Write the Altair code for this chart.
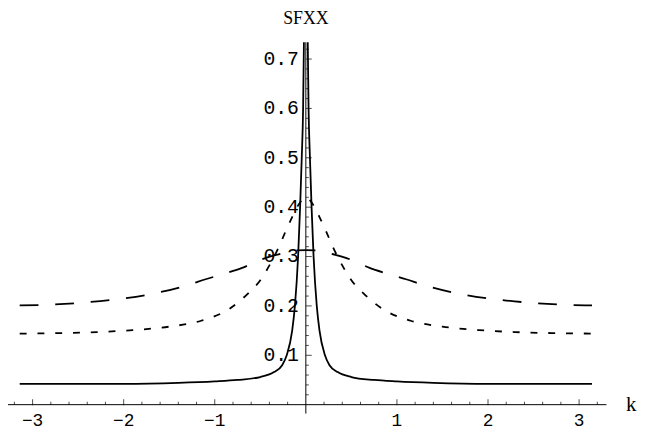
import altair as alt
import pandas as pd

# ---- values (positive-k half; curves are symmetric in k) ----
k_long = [0.0, 0.15, 0.27, 0.43, 0.54, 0.70, 0.90, 1.10, 1.30, 1.70, 2.10, 2.50, 2.90, 3.1416]
v_long = [0.313, 0.312, 0.306, 0.298, 0.290, 0.277, 0.265, 0.254, 0.242, 0.224, 0.213, 0.206, 0.202, 0.201]

k_short = [0.0, 0.08, 0.15, 0.22, 0.30, 0.40, 0.50, 0.63, 0.85, 1.15, 1.50, 1.90, 2.30, 2.70, 3.1416]
v_short = [0.420, 0.405, 0.380, 0.352, 0.318, 0.282, 0.252, 0.226, 0.193, 0.170, 0.158, 0.151, 0.147, 0.145, 0.144]

k_solid = [0.021, 0.030, 0.045, 0.063, 0.085, 0.12, 0.15, 0.21, 0.26, 0.35, 0.50, 0.75, 1.00, 1.40, 2.00, 3.1416]
v_solid = [0.734, 0.600, 0.500, 0.400, 0.300, 0.200, 0.150, 0.100, 0.080, 0.066, 0.056, 0.050, 0.047, 0.044, 0.042, 0.042]

x_tick_values = [-3, -2, -1, 1, 2, 3]
x_tick_labels = ["−3", "−2", "−1", "1", "2", "3"]
x_minor_ticks = [round(-3.2 + 0.2 * i, 1) for i in range(33)]
y_tick_values = [0.1, 0.2, 0.3, 0.4, 0.5, 0.6, 0.7]
y_tick_labels = ["0.1", "0.2", "0.3", "0.4", "0.5", "0.6", "0.7"]
y_minor_ticks = [round(0.02 * i, 2) for i in range(1, 37)]

X_RANGE = [-3.27, 3.30]
Y_RANGE = [0.0, 0.734]
Y_AXIS_BOTTOM = -0.018

# ---- build tables ----
rows = []
for k, v in zip(k_long, v_long):
    rows.append({"series": "long", "branch": "a", "k": k, "v": v})
    if k > 0:
        rows.append({"series": "long", "branch": "a", "k": -k, "v": v})
for k, v in zip(k_short, v_short):
    rows.append({"series": "short", "branch": "a", "k": k, "v": v})
    if k > 0:
        rows.append({"series": "short", "branch": "a", "k": -k, "v": v})
for k, v in zip(k_solid, v_solid):
    rows.append({"series": "solid", "branch": "right", "k": k, "v": v})
    rows.append({"series": "solid", "branch": "left", "k": -k, "v": v})
curves = pd.DataFrame(rows)

xs = alt.Scale(domain=X_RANGE, nice=False, zero=False)
ys = alt.Scale(domain=Y_RANGE, nice=False, zero=False)


def X(f):
    return alt.X(f, type="quantitative", scale=xs, axis=None)


def Y(f):
    return alt.Y(f, type="quantitative", scale=ys, axis=None)


base = alt.Chart(curves)
long_line = base.transform_filter("datum.series == 'long'").mark_line(
    color="black", strokeWidth=1.8, strokeDash=[19, 17], interpolate="monotone"
).encode(x=X("k"), y=Y("v"))
short_line = base.transform_filter("datum.series == 'short'").mark_line(
    color="black", strokeWidth=1.8, strokeDash=[7, 11], interpolate="monotone"
).encode(x=X("k"), y=Y("v"))
solid_line = base.transform_filter("datum.series == 'solid'").mark_line(
    color="black", strokeWidth=1.8, interpolate="monotone"
).encode(x=X("k"), y=Y("v"), detail="branch:N")

# axes lines
x_axis = alt.Chart(pd.DataFrame({"a": [X_RANGE[0]], "b": [X_RANGE[1]], "y": [0.0]})).mark_rule(
    color="black", strokeWidth=1
).encode(x=X("a"), x2="b", y=Y("y"))
y_axis = alt.Chart(pd.DataFrame({"x": [0.0], "a": [Y_AXIS_BOTTOM], "b": [Y_RANGE[1]]})).mark_rule(
    color="black", strokeWidth=1
).encode(x=X("x"), y=Y("a"), y2="b")

# ticks
xminor = [t for t in x_minor_ticks if abs(t - round(t)) > 1e-9]
x_minor = alt.Chart(pd.DataFrame({"k": xminor, "y": 0.0})).mark_tick(
    orient="vertical", size=3, thickness=1, color="black", yOffset=-1.5
).encode(x=X("k"), y=Y("y"))
x_major = alt.Chart(pd.DataFrame({"k": x_tick_values, "y": 0.0})).mark_tick(
    orient="vertical", size=6, thickness=1, color="black", yOffset=-2.5
).encode(x=X("k"), y=Y("y"))
yminor = [t for t in y_minor_ticks if abs(t * 10 - round(t * 10)) > 1e-9]
y_minor = alt.Chart(pd.DataFrame({"x": 0.0, "v": yminor})).mark_tick(
    orient="horizontal", size=3, thickness=1, color="black", xOffset=1.5
).encode(x=X("x"), y=Y("v"))
y_major = alt.Chart(pd.DataFrame({"x": 0.0, "v": y_tick_values})).mark_tick(
    orient="horizontal", size=6, thickness=1, color="black", xOffset=3
).encode(x=X("x"), y=Y("v"))

FONT = "Liberation Mono"
SERIF = "Liberation Serif"
x_labels = alt.Chart(pd.DataFrame({"k": x_tick_values, "y": 0.0, "t": x_tick_labels})).mark_text(
    font=FONT, fontSize=18, align="center", baseline="middle", dy=17, color="black"
).encode(x=X("k"), y=Y("y"), text="t:N")
y_labels = alt.Chart(pd.DataFrame({"x": 0.0, "v": y_tick_values, "t": y_tick_labels})).mark_text(
    font=FONT, fontSize=20, align="right", baseline="middle", dx=-7, color="black"
).encode(x=X("x"), y=Y("v"), text="t:N")
title = alt.Chart(pd.DataFrame({"x": [0.0], "v": [Y_RANGE[1]], "t": ["SFXX"]})).mark_text(
    font=SERIF, fontSize=18, align="center", baseline="middle", dy=-23, color="black"
).encode(x=X("x"), y=Y("v"), text="t:N")
klabel = alt.Chart(pd.DataFrame({"x": [X_RANGE[1]], "v": [0.0], "t": ["k"]})).mark_text(
    font=SERIF, fontSize=21, align="center", baseline="middle", dx=25, color="black"
).encode(x=X("x"), y=Y("v"), text="t:N")

chart = alt.layer(
    x_axis, y_axis, x_minor, x_major, y_minor, y_major,
    long_line, short_line, solid_line,
    x_labels, y_labels, title, klabel,
).properties(
    width=606, height=367,
    autosize=alt.AutoSizeParams(type="none"),
    padding={"left": 0, "top": 32, "right": 33, "bottom": 27},
).configure_view(stroke=None)

chart.save("out.html", embed_options={"renderer": "svg", "actions": False})
